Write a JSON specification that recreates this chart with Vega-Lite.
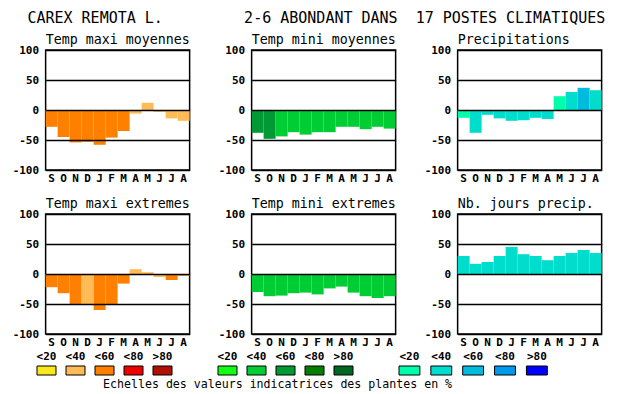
{
  "$schema": "https://vega.github.io/schema/vega-lite/v6.json",
  "background": "white",
  "padding": {"left": 11, "top": 10, "right": 5, "bottom": 2},
  "config": {
    "font": "DejaVu Sans Mono",
    "view": {"stroke": "black", "strokeWidth": 1.5},
    "axis": {"labelFont": "DejaVu Sans Mono", "labelColor": "black", "title": null}
  },
  "title": {
    "text": "CAREX REMOTA L.\u00a0\u00a0\u00a0\u00a0\u00a0\u00a0\u00a0\u00a0\u00a02-6 ABONDANT DANS\u00a0\u00a017 POSTES CLIMATIQUES",
    "anchor": "start",
    "font": "DejaVu Sans Mono",
    "fontSize": 15,
    "fontWeight": "normal",
    "color": "black",
    "dx": 16,
    "offset": 6
  },
  "datasets": {
    "panels": [
      {"panel": "Temp maxi moyennes", "m": "Sep", "v": -28, "c": "T60"},
      {"panel": "Temp maxi moyennes", "m": "Oct", "v": -45, "c": "T60"},
      {"panel": "Temp maxi moyennes", "m": "Nov", "v": -54, "c": "T60"},
      {"panel": "Temp maxi moyennes", "m": "Dec", "v": -53, "c": "T60"},
      {"panel": "Temp maxi moyennes", "m": "Jan", "v": -58, "c": "T60"},
      {"panel": "Temp maxi moyennes", "m": "Feb", "v": -46, "c": "T60"},
      {"panel": "Temp maxi moyennes", "m": "Mar", "v": -35, "c": "T60"},
      {"panel": "Temp maxi moyennes", "m": "Apr", "v": -6, "c": "T40"},
      {"panel": "Temp maxi moyennes", "m": "May", "v": 12, "c": "T40"},
      {"panel": "Temp maxi moyennes", "m": "Jun", "v": -3, "c": "T40"},
      {"panel": "Temp maxi moyennes", "m": "Jul", "v": -14, "c": "T40"},
      {"panel": "Temp maxi moyennes", "m": "Aug", "v": -18, "c": "T40"},
      {"panel": "Temp mini moyennes", "m": "Sep", "v": -38, "c": "G60"},
      {"panel": "Temp mini moyennes", "m": "Oct", "v": -48, "c": "G60"},
      {"panel": "Temp mini moyennes", "m": "Nov", "v": -44, "c": "G40"},
      {"panel": "Temp mini moyennes", "m": "Dec", "v": -37, "c": "G40"},
      {"panel": "Temp mini moyennes", "m": "Jan", "v": -41, "c": "G40"},
      {"panel": "Temp mini moyennes", "m": "Feb", "v": -37, "c": "G40"},
      {"panel": "Temp mini moyennes", "m": "Mar", "v": -37, "c": "G40"},
      {"panel": "Temp mini moyennes", "m": "Apr", "v": -28, "c": "G40"},
      {"panel": "Temp mini moyennes", "m": "May", "v": -28, "c": "G40"},
      {"panel": "Temp mini moyennes", "m": "Jun", "v": -32, "c": "G40"},
      {"panel": "Temp mini moyennes", "m": "Jul", "v": -28, "c": "G40"},
      {"panel": "Temp mini moyennes", "m": "Aug", "v": -31, "c": "G40"},
      {"panel": "Precipitations", "m": "Sep", "v": -13, "c": "B20"},
      {"panel": "Precipitations", "m": "Oct", "v": -38, "c": "B40"},
      {"panel": "Precipitations", "m": "Nov", "v": -8, "c": "B40"},
      {"panel": "Precipitations", "m": "Dec", "v": -14, "c": "B40"},
      {"panel": "Precipitations", "m": "Jan", "v": -18, "c": "B40"},
      {"panel": "Precipitations", "m": "Feb", "v": -17, "c": "B40"},
      {"panel": "Precipitations", "m": "Mar", "v": -13, "c": "B40"},
      {"panel": "Precipitations", "m": "Apr", "v": -15, "c": "B40"},
      {"panel": "Precipitations", "m": "May", "v": 23, "c": "B20"},
      {"panel": "Precipitations", "m": "Jun", "v": 30, "c": "B40"},
      {"panel": "Precipitations", "m": "Jul", "v": 37, "c": "B60"},
      {"panel": "Precipitations", "m": "Aug", "v": 33, "c": "B40"},
      {"panel": "Temp maxi extremes", "m": "Sep", "v": -22, "c": "T60"},
      {"panel": "Temp maxi extremes", "m": "Oct", "v": -32, "c": "T60"},
      {"panel": "Temp maxi extremes", "m": "Nov", "v": -51, "c": "T60"},
      {"panel": "Temp maxi extremes", "m": "Dec", "v": -51, "c": "T40"},
      {"panel": "Temp maxi extremes", "m": "Jan", "v": -60, "c": "T60"},
      {"panel": "Temp maxi extremes", "m": "Feb", "v": -51, "c": "T60"},
      {"panel": "Temp maxi extremes", "m": "Mar", "v": -16, "c": "T60"},
      {"panel": "Temp maxi extremes", "m": "Apr", "v": 8, "c": "T40"},
      {"panel": "Temp maxi extremes", "m": "May", "v": 3, "c": "T40"},
      {"panel": "Temp maxi extremes", "m": "Jun", "v": -5, "c": "T40"},
      {"panel": "Temp maxi extremes", "m": "Jul", "v": -10, "c": "T60"},
      {"panel": "Temp maxi extremes", "m": "Aug", "v": -3, "c": "T60"},
      {"panel": "Temp mini extremes", "m": "Sep", "v": -30, "c": "G40"},
      {"panel": "Temp mini extremes", "m": "Oct", "v": -37, "c": "G40"},
      {"panel": "Temp mini extremes", "m": "Nov", "v": -36, "c": "G40"},
      {"panel": "Temp mini extremes", "m": "Dec", "v": -32, "c": "G40"},
      {"panel": "Temp mini extremes", "m": "Jan", "v": -31, "c": "G40"},
      {"panel": "Temp mini extremes", "m": "Feb", "v": -34, "c": "G40"},
      {"panel": "Temp mini extremes", "m": "Mar", "v": -24, "c": "G40"},
      {"panel": "Temp mini extremes", "m": "Apr", "v": -21, "c": "G40"},
      {"panel": "Temp mini extremes", "m": "May", "v": -31, "c": "G40"},
      {"panel": "Temp mini extremes", "m": "Jun", "v": -37, "c": "G40"},
      {"panel": "Temp mini extremes", "m": "Jul", "v": -40, "c": "G40"},
      {"panel": "Temp mini extremes", "m": "Aug", "v": -37, "c": "G40"},
      {"panel": "Nb. jours precip.", "m": "Sep", "v": 30, "c": "B40"},
      {"panel": "Nb. jours precip.", "m": "Oct", "v": 17, "c": "B40"},
      {"panel": "Nb. jours precip.", "m": "Nov", "v": 20, "c": "B40"},
      {"panel": "Nb. jours precip.", "m": "Dec", "v": 30, "c": "B40"},
      {"panel": "Nb. jours precip.", "m": "Jan", "v": 45, "c": "B40"},
      {"panel": "Nb. jours precip.", "m": "Feb", "v": 33, "c": "B40"},
      {"panel": "Nb. jours precip.", "m": "Mar", "v": 30, "c": "B40"},
      {"panel": "Nb. jours precip.", "m": "Apr", "v": 23, "c": "B40"},
      {"panel": "Nb. jours precip.", "m": "May", "v": 30, "c": "B40"},
      {"panel": "Nb. jours precip.", "m": "Jun", "v": 35, "c": "B40"},
      {"panel": "Nb. jours precip.", "m": "Jul", "v": 40, "c": "B40"},
      {"panel": "Nb. jours precip.", "m": "Aug", "v": 35, "c": "B40"}
    ],
    "legend": [
      {"g": "T", "lab": "<20", "c": "T20"},
      {"g": "T", "lab": "<40", "c": "T40"},
      {"g": "T", "lab": "<60", "c": "T60"},
      {"g": "T", "lab": "<80", "c": "T80"},
      {"g": "T", "lab": ">80", "c": "T99"},
      {"g": "G", "lab": "<20", "c": "G20"},
      {"g": "G", "lab": "<40", "c": "G40"},
      {"g": "G", "lab": "<60", "c": "G60"},
      {"g": "G", "lab": "<80", "c": "G80"},
      {"g": "G", "lab": ">80", "c": "G99"},
      {"g": "B", "lab": "<20", "c": "B20"},
      {"g": "B", "lab": "<40", "c": "B40"},
      {"g": "B", "lab": "<60", "c": "B60"},
      {"g": "B", "lab": "<80", "c": "B80"},
      {"g": "B", "lab": ">80", "c": "B99"}
    ]
  },
  "spacing": 2,
  "center": true,
  "vconcat": [
    {
      "data": {"name": "panels"},
      "facet": {
        "field": "panel",
        "type": "nominal",
        "sort": ["Temp maxi moyennes", "Temp mini moyennes", "Precipitations", "Temp maxi extremes", "Temp mini extremes", "Nb. jours precip."],
        "header": {"title": null, "labelFont": "DejaVu Sans Mono", "labelFontSize": 13.3, "labelAnchor": "start", "labelPadding": -2, "labelColor": "black"}
      },
      "columns": 3,
      "spacing": {"row": 11, "column": 26},
      "resolve": {"axis": {"x": "independent", "y": "independent"}},
      "spec": {
        "width": 144,
        "height": 120,
        "mark": {"type": "bar"},
        "encoding": {
          "x": {
            "field": "m", "type": "ordinal",
            "scale": {"domain": ["Sep","Oct","Nov","Dec","Jan","Feb","Mar","Apr","May","Jun","Jul","Aug"], "paddingInner": 0, "paddingOuter": 0},
            "axis": {"labelExpr": "substring(datum.value, 0, 1)", "labelAngle": 0, "labelFontWeight": "bold", "labelFontSize": 11, "labelPadding": 2, "ticks": false, "domain": false, "grid": false}
          },
          "y": {
            "field": "v", "type": "quantitative",
            "scale": {"domain": [-100, 100], "nice": false},
            "axis": {"values": [-100, -50, 0, 50, 100], "labelExpr": "'' + datum.value", "labelFontWeight": "bold", "labelFontSize": 11, "labelPadding": 7, "ticks": false, "domain": false, "grid": true, "gridColor": "black", "gridWidth": 1.5, "gridOpacity": 1, "zindex": 1}
          },
          "color": {
            "field": "c", "type": "nominal", "legend": null,
            "scale": {
              "domain": ["T20","T40","T60","T80","T99","G20","G40","G60","G80","G99","B20","B40","B60","B80","B99"],
              "range": ["#F8E81C","#FFBB55","#FF8000","#EE0000","#B01000","#11FF11","#00CC33","#009933","#007F00","#006622","#00FFAA","#00DDCC","#00BBDD","#0099EE","#0000FF"]
            }
          }
        }
      }
    },
    {
      "spacing": 3,
      "title": {"text": "Echelles des valeurs indicatrices des plantes en %", "orient": "bottom", "anchor": "start", "dx": 67, "font": "DejaVu Sans Mono", "fontSize": 11.6, "fontWeight": "normal", "color": "black", "offset": 3},
      "hconcat": [
        {
          "data": {"name": "legend"},
          "transform": [{"filter": "datum.g == 'T'"}],
          "width": 177, "height": 9,
          "view": {"stroke": null},
          "mark": {"type": "rect", "stroke": "black", "strokeWidth": 1},
          "encoding": {
            "x": {"field": "lab", "type": "ordinal", "scale": {"domain": ["<20","<40","<60","<80",">80"], "paddingInner": 0.345, "paddingOuter": 0.724, "align": 0},
              "axis": {"orient": "top", "labelAngle": 0, "labelFontWeight": "bold", "labelFontSize": 11, "labelPadding": 5, "ticks": false, "domain": false, "grid": false}},
            "color": {"field": "c", "type": "nominal", "legend": null,
              "scale": {
                "domain": ["T20","T40","T60","T80","T99","G20","G40","G60","G80","G99","B20","B40","B60","B80","B99"],
                "range": ["#F8E81C","#FFBB55","#FF8000","#EE0000","#B01000","#11FF11","#00CC33","#009933","#007F00","#006622","#00FFAA","#00DDCC","#00BBDD","#0099EE","#0000FF"]
              }}
          }
        },
        {
          "data": {"name": "legend"},
          "transform": [{"filter": "datum.g == 'G'"}],
          "width": 177, "height": 9,
          "view": {"stroke": null},
          "mark": {"type": "rect", "stroke": "black", "strokeWidth": 1},
          "encoding": {
            "x": {"field": "lab", "type": "ordinal", "scale": {"domain": ["<20","<40","<60","<80",">80"], "paddingInner": 0.345, "paddingOuter": 0.724, "align": 0},
              "axis": {"orient": "top", "labelAngle": 0, "labelFontWeight": "bold", "labelFontSize": 11, "labelPadding": 5, "ticks": false, "domain": false, "grid": false}},
            "color": {"field": "c", "type": "nominal", "legend": null,
              "scale": {
                "domain": ["T20","T40","T60","T80","T99","G20","G40","G60","G80","G99","B20","B40","B60","B80","B99"],
                "range": ["#F8E81C","#FFBB55","#FF8000","#EE0000","#B01000","#11FF11","#00CC33","#009933","#007F00","#006622","#00FFAA","#00DDCC","#00BBDD","#0099EE","#0000FF"]
              }}
          }
        },
        {
          "data": {"name": "legend"},
          "transform": [{"filter": "datum.g == 'B'"}],
          "width": 212, "height": 9,
          "view": {"stroke": null},
          "mark": {"type": "rect", "stroke": "black", "strokeWidth": 1},
          "encoding": {
            "x": {"field": "lab", "type": "ordinal", "scale": {"domain": ["<20","<40","<60","<80",">80"], "paddingInner": 0.345, "paddingOuter": 1.328, "align": 0},
              "axis": {"orient": "top", "labelAngle": 0, "labelFontWeight": "bold", "labelFontSize": 11, "labelPadding": 5, "ticks": false, "domain": false, "grid": false}},
            "color": {"field": "c", "type": "nominal", "legend": null,
              "scale": {
                "domain": ["T20","T40","T60","T80","T99","G20","G40","G60","G80","G99","B20","B40","B60","B80","B99"],
                "range": ["#F8E81C","#FFBB55","#FF8000","#EE0000","#B01000","#11FF11","#00CC33","#009933","#007F00","#006622","#00FFAA","#00DDCC","#00BBDD","#0099EE","#0000FF"]
              }}
          }
        }
      ]
    }
  ]
}
